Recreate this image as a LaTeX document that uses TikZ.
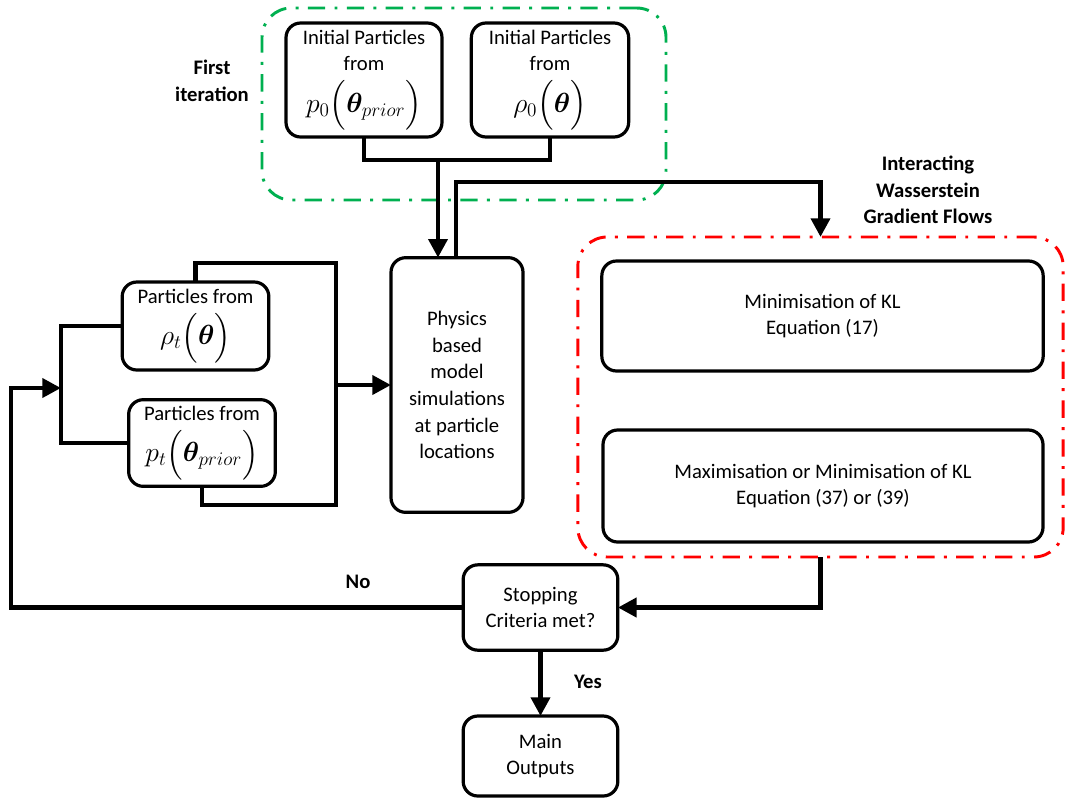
\documentclass[tikz,border=0pt]{standalone}
\usepackage{amsmath}
\usepackage{bm}
\usepackage[no-math]{fontspec}
\setmainfont{Carlito}
\usepackage{tikz}
\usetikzlibrary{positioning,arrows.meta}
\definecolor{itergreen}{RGB}{0,176,80}
\definecolor{flowred}{RGB}{255,0,0}
\tikzstyle{signal}=[arrows={-Triangle[width=14pt,length=14pt]},draw=black,line width=3.6pt]
\tikzstyle{wire}=[draw=black,line width=3.6pt]
\tikzstyle{block}=[draw=black,line width=2.4pt,rounded corners=11pt,
    inner sep=2pt,outer sep=0pt,text centered,align=center]
\tikzstyle{frame}=[line width=2.2pt,rounded corners=22pt,outer sep=0pt,
    dash pattern=on 13pt off 7pt on 2.2pt off 7pt]
\tikzstyle{tag}=[font=\fontsize{15.5}{20}\selectfont\bfseries,align=center]
\newcommand{\mathsz}{\fontsize{20}{24}\selectfont}

\begin{document}
\begin{tikzpicture}[x=0.75pt,y=-0.75pt,
    every node/.style={font=\fontsize{15.5}{20}\selectfont}]
\useasboundingbox (0,0) rectangle (1066,800);
% dash-dot frames
\node[frame,draw=itergreen,minimum width=303pt,minimum height=144pt] (firstit) at (464,104) {};
\node[frame,draw=flowred,minimum width=364pt,minimum height=240pt] (flows) at (820.5,397) {};
% blocks
\node[block,minimum width=117pt,minimum height=85.5pt] (initprior) at (364,80)
    {Initial Particles\\from\\[6pt]{\mathsz$p_0\Bigl(\bm{\theta}_{prior}\Bigr)$}};
\node[block,minimum width=118pt,minimum height=85.5pt] (initrho) at (550,80)
    {Initial Particles\\from\\[6pt]{\mathsz$\rho_0\Bigl(\bm{\theta}\Bigr)$}};
\node[block,minimum width=99pt,minimum height=191pt] (phys) at (457,385)
    {Physics\\based\\model\\simulations\\at particle\\locations};
\node[block,minimum width=110pt,minimum height=66pt] (partrho) at (195.5,326)
    {Particles from\\[6pt]{\mathsz$\rho_t\Bigl(\bm{\theta}\Bigr)$}};
\node[block,minimum width=110pt,minimum height=65pt] (partprior) at (202,443)
    {Particles from\\[6pt]{\mathsz$p_t\Bigl(\bm{\theta}_{prior}\Bigr)$}};
\node[block,minimum width=331pt,minimum height=82.5pt] (klmin) at (822.5,316)
    {Minimisation of KL\\Equation (17)};
\node[block,minimum width=330pt,minimum height=84pt] (klmax) at (823,486)
    {Maximisation or Minimisation of KL\\Equation (37) or (39)};
\node[block,minimum width=116pt,minimum height=64pt] (stop) at (540.5,607.5)
    {Stopping\\Criteria met?};
\node[block,minimum width=116pt,minimum height=60pt] (outputs) at (540.5,756)
    {Main\\Outputs};
% labels
\node[tag] (firstlbl) at (212,81) {First\\iteration};
\node[tag] (flowslbl) at (928,190) {Interacting\\Wasserstein\\Gradient Flows};
\node[tag] (nolbl) at (358,582) {No};
\node[tag] (yeslbl) at (588,682) {Yes};
% connectors
\coordinate (jtop) at (438,160);
\coordinate (jup) at (456,182);
\coordinate (rb1) at (336,263);
\coordinate (rb2) at (336,505);
\coordinate (jr) at (336,385);
\coordinate (jl) at (61,388);
\coordinate (fb) at (11,388);
\draw[wire] (initprior.south) |- (jtop) -| (initrho.south);
\draw[signal] (jtop) -- (jtop |- phys.north);
\draw[signal] (jup |- phys.north) -- (jup) -| (flows.north);
\draw[wire] (partrho.north) |- (rb1) -- (rb2) -| (partprior.south);
\draw[signal] (jr) -- (phys.west |- jr);
\draw[wire] (partrho.west) -| (jl) |- (partprior.west);
\draw[signal] (stop.west) -| (fb) -- (jl);
\draw[signal] (flows.south) |- (stop.east);
\draw[signal] (stop.south) -- (outputs.north);
\end{tikzpicture}
\end{document}
